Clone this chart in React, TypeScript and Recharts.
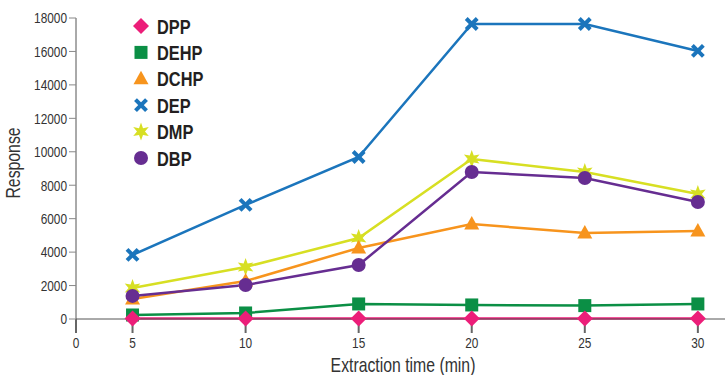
import React from 'react';
import { LineChart, Line, XAxis, YAxis } from 'recharts';

// extraction times (min) and detector response per phthalate
const times = [5, 10, 15, 20, 25, 30];
const dpp = [30, 30, 30, 30, 30, 30];
const dehp = [240, 360, 900, 840, 800, 900];
const dchp = [1200, 2270, 4250, 5680, 5140, 5260];
const dep = [3830, 6820, 9690, 17640, 17640, 16030];
const dmp = [1850, 3110, 4840, 9570, 8790, 7480];
const dbp = [1380, 2030, 3230, 8790, 8430, 7000];

const xTicks = [2.5, 5, 10, 15, 20, 25, 30];
const yTicks = [0, 2000, 4000, 6000, 8000, 10000, 12000, 14000, 16000, 18000];

type Shape = 'diamond' | 'square' | 'triangle' | 'cross' | 'star' | 'circle';

const series: { key: string; name: string; color: string; shape: Shape; values: number[] }[] = [
  { key: 'dep', name: 'DEP', color: '#1b75bc', shape: 'cross', values: dep },
  { key: 'dmp', name: 'DMP', color: '#d7df23', shape: 'star', values: dmp },
  { key: 'dchp', name: 'DCHP', color: '#f7941d', shape: 'triangle', values: dchp },
  { key: 'dbp', name: 'DBP', color: '#662d91', shape: 'circle', values: dbp },
  { key: 'dehp', name: 'DEHP', color: '#0b8f45', shape: 'square', values: dehp },
  { key: 'dpp', name: 'DPP', color: '#ec1e79', shape: 'diamond', values: dpp },
];

const legendOrder = ['dpp', 'dehp', 'dchp', 'dep', 'dmp', 'dbp'];

const data = times.map((t, i) => {
  const row: any = { time: t };
  series.forEach((s) => (row[s.key] = s.values[i]));
  return row;
});

const Marker = ({ shape, cx, cy, color }: { shape: Shape; cx: number; cy: number; color: string }) => {
  switch (shape) {
    case 'diamond':
      return <polygon points={`${cx},${cy - 8} ${cx + 8},${cy} ${cx},${cy + 8} ${cx - 8},${cy}`} fill={color} />;
    case 'square':
      return <rect x={cx - 6.5} y={cy - 6.5} width={13} height={13} fill={color} />;
    case 'triangle':
      return <polygon points={`${cx},${cy - 8} ${cx + 7.5},${cy + 5.5} ${cx - 7.5},${cy + 5.5}`} fill={color} />;
    case 'cross':
      return (
        <g stroke={color} strokeWidth={4}>
          <line x1={cx - 5.5} y1={cy - 5.5} x2={cx + 5.5} y2={cy + 5.5} />
          <line x1={cx - 5.5} y1={cy + 5.5} x2={cx + 5.5} y2={cy - 5.5} />
        </g>
      );
    case 'star': {
      const pts: string[] = [];
      for (let k = 0; k < 12; k++) {
        const r = k % 2 === 0 ? 9 : 4;
        const a = (Math.PI / 6) * k - Math.PI / 2;
        pts.push(`${cx + r * Math.cos(a)},${cy + r * Math.sin(a)}`);
      }
      return <polygon points={pts.join(' ')} fill={color} />;
    }
    default:
      return <circle cx={cx} cy={cy} r={7} fill={color} />;
  }
};

// no condensed font installed, so squeeze Liberation Sans horizontally
const font = '"Liberation Sans", Arial, sans-serif';
const squeeze = 0.79;

const XTick = ({ x, y, payload }: any) => (
  <text transform={`translate(${x},${y}) scale(${squeeze},1)`} textAnchor="middle" dy="0.71em" fill="#333" fontSize={15} fontFamily={font}>
    {payload.value === 2.5 ? '0' : payload.value}
  </text>
);

const YTick = ({ x, y, payload }: any) => (
  <text transform={`translate(${x},${y}) scale(${squeeze},1)`} textAnchor="end" dy="0.355em" fill="#333" fontSize={15} fontFamily={font}>
    {payload.value}
  </text>
);

export default function App() {
  return (
    <div style={{ position: 'absolute', left: 0, top: 0, width: 727, height: 375, background: '#fff' }}>
      <LineChart width={727} height={375} data={data} margin={{ top: 18, right: 2, bottom: 0, left: 0 }}>
        <XAxis
          dataKey="time"
          type="number"
          domain={[2.5, 31.2]}
          ticks={xTicks}
          height={56}
          tickSize={14}
          tickMargin={4}
          stroke="#555"
          tickLine={{ stroke: '#666', strokeWidth: 2 }}
          tick={<XTick />}
          label={{
            content: () => (
              <text transform={`translate(403,372) scale(${squeeze},1)`} textAnchor="middle" fill="#333" fontSize={20} fontFamily={font}>
                Extraction time (min)
              </text>
            ),
          }}
        />
        <YAxis
          type="number"
          domain={[0, 18000]}
          ticks={yTicks}
          width={76}
          tickSize={7}
          tickMargin={2}
          stroke="#555"
          tickLine={{ stroke: '#888' }}
          tick={<YTick />}
          label={{
            content: () => (
              <text transform={`translate(20,163) rotate(-90) scale(${squeeze},1)`} textAnchor="middle" fill="#333" fontSize={20} fontFamily={font}>
                Response
              </text>
            ),
          }}
        />
        {series.map((s) => (
          <Line
            key={s.key}
            dataKey={s.key}
            name={s.name}
            stroke={s.color}
            strokeWidth={2.5}
            isAnimationActive={false}
            dot={(p: any) => <Marker key={`${s.key}-${p.index}`} shape={s.shape} cx={p.cx} cy={p.cy} color={s.color} />}
            activeDot={false}
          />
        ))}
      </LineChart>
      <svg style={{ position: 'absolute', left: 125, top: 12 }} width={120} height={162}>
        {legendOrder.map((k, i) => {
          const s = series.find((x) => x.key === k)!;
          const y = 14 + i * 26.4;
          return (
            <g key={k}>
              <Marker shape={s.shape} cx={16} cy={y} color={s.color} />
              <text transform={`translate(32,${y + 7.5}) scale(0.78,1)`} fontSize={21} fontWeight="bold" fill="#231f20" fontFamily={font}>
                {s.name}
              </text>
            </g>
          );
        })}
      </svg>
    </div>
  );
}
